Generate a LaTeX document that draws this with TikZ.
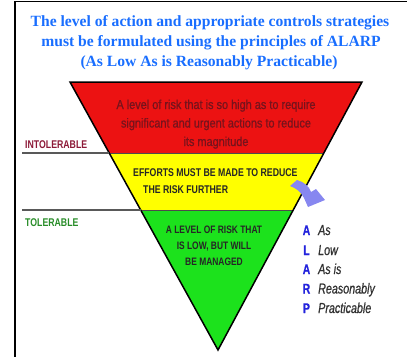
\documentclass[tikz,border=0pt]{standalone}
\usepackage{fontspec}
\setmainfont{Liberation Serif}
\newfontfamily\narA[FakeStretch=0.78]{Liberation Sans}
\newfontfamily\narB[FakeStretch=0.84,FakeBold=0.9]{Liberation Sans}
\newfontfamily\narC[FakeStretch=0.74,FakeBold=0.7]{Liberation Sans}
\definecolor{titleblue}{RGB}{25,110,255}
\definecolor{bandred}{RGB}{236,18,18}
\definecolor{bandyellow}{RGB}{255,255,0}
\definecolor{bandgreen}{RGB}{28,226,28}
\definecolor{redtext}{RGB}{120,18,28}
\definecolor{intolred}{RGB}{140,25,55}
\definecolor{tolgreen}{RGB}{40,140,40}
\definecolor{letterblue}{RGB}{35,35,220}
\definecolor{wordgray}{RGB}{50,50,50}
\definecolor{arrowlav}{RGB}{135,135,240}
\begin{document}
\begin{tikzpicture}[x=1pt,y=-1pt,
  titletext/.style={inner sep=0pt, anchor=base, text=titleblue, font=\fontsize{15.6}{20}\selectfont\bfseries},
  bandline/.style={black!70, line width=0.6pt},
  sepline/.style={black!65, line width=1.5pt},
  frameline/.style={black, line width=1.3pt},
  zonelabel/.style={inner sep=0pt, anchor=base west, font=\narA\fontsize{11.2}{13}\selectfont\bfseries},
  redtextstyle/.style={inner sep=0pt, anchor=base, text=redtext, font=\narB\fontsize{13}{18.5}\selectfont},
  yellowtext/.style={inner sep=0pt, anchor=base west, text=black!85, font=\narA\fontsize{11.2}{13}\selectfont\bfseries},
  greentext/.style={inner sep=0pt, anchor=base, text=black!85, font=\narA\fontsize{10.8}{13}\selectfont\bfseries},
  alletter/.style={inner sep=0pt, anchor=base, text=letterblue, font=\narC\fontsize{14}{16}\selectfont\bfseries},
  alword/.style={inner sep=0pt, anchor=base west, text=wordgray, font=\narC\fontsize{14.5}{16}\selectfont\itshape}
]
\useasboundingbox (0,0) rectangle (407,357);
% frame
\coordinate (F0) at (15,1.5);
\coordinate (F1) at (407,1.5);
\coordinate (F2) at (15,357);
\draw[frameline] (F1) -- (F0) -- (F2);
% title
\node[titletext] (t1) at (210,26) {The level of action and appropriate controls strategies};
\node[titletext] (t2) at (211,46) {must be formulated using the principles of ALARP};
\node[titletext] (t3) at (209,66) {(As Low As is Reasonably Practicable)};
% triangle
\coordinate (TL) at (70,82);
\coordinate (TR) at (362,82);
\coordinate (AP) at (218,350);
\coordinate (L1) at (109.2,153);
\coordinate (R1) at (323.9,153);
\coordinate (L2) at (140.7,210);
\coordinate (R2) at (293.2,210);
\fill[bandred] (TL) -- (TR) -- (R1) -- (L1) -- cycle;
\fill[bandyellow] (L1) -- (R1) -- (R2) -- (L2) -- cycle;
\fill[bandgreen] (L2) -- (R2) -- (AP) -- cycle;
\draw[bandline] (L1) -- (R1);
\draw[bandline] (L2) -- (R2);
\draw[black, line width=1.5pt, line join=miter] (TL) -- (TR) -- (AP) -- cycle;
% side lines
\coordinate (IL) at (22,153);
\coordinate (TLn) at (22,210);
\draw[sepline] (IL) -- (L1);
\draw[sepline] (TLn) -- (L2);
\node[zonelabel, text=intolred] (intol) at (25,148.3) {INTOLERABLE};
\node[zonelabel, text=tolgreen] (tol) at (25,226.7) {TOLERABLE};
% band texts
\node[redtextstyle] (r1) at (216,109) {A level of risk that is so high as to require};
\node[redtextstyle] (r2) at (216,127.5) {significant and urgent actions to reduce};
\node[redtextstyle] (r3) at (216,146) {its magnitude};
\node[yellowtext] (y1) at (133,176.7) {EFFORTS MUST BE MADE TO REDUCE};
\node[yellowtext] (y2) at (143,193.3) {THE RISK FURTHER};
\node[greentext] (g1) at (214,233.3) {A LEVEL OF RISK THAT};
\node[greentext] (g2) at (214,249.3) {IS LOW, BUT WILL};
\node[greentext] (g3) at (214,265) {BE MANAGED};
% arrow
\fill[arrowlav] (290,186) -- (297,180) .. controls (304,182) and (309,186) .. (311,192)
  -- (316,189) -- (325,200) -- (308,207) -- (304,198)
  .. controls (301,192) and (296,188) .. (290,186) -- cycle;
% ALARP list
\node[alletter] (la) at (306.5,235) {A};
\node[alletter] (ll) at (306.5,255) {L};
\node[alletter] (la2) at (306.5,274) {A};
\node[alletter] (lr) at (306.5,293.5) {R};
\node[alletter] (lp) at (306.5,313) {P};
\node[alword] (wa) at (318,235) {As};
\node[alword] (wl) at (318,255) {Low};
\node[alword] (wa2) at (318,274) {As is};
\node[alword] (wr) at (318,293.5) {Reasonably};
\node[alword] (wp) at (318,313) {Practicable};
\end{tikzpicture}
\end{document}
